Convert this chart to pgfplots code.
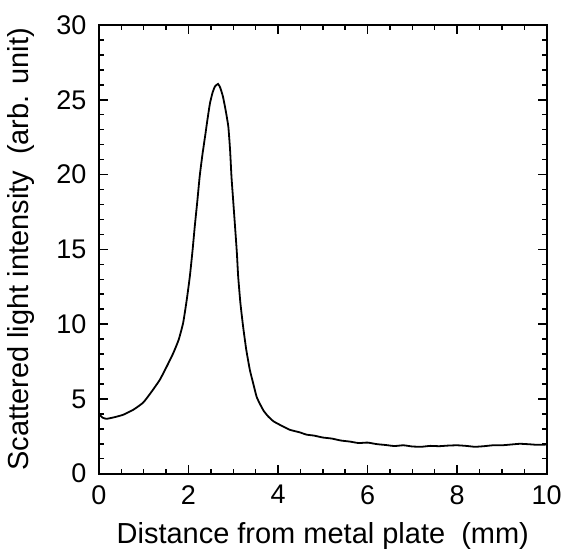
\documentclass[border=0pt]{standalone}
\usepackage{fontspec}
\setmainfont{Liberation Sans}
\usepackage{pgfplots}
\pgfplotsset{compat=1.18}

\pgfplotstableread{
x y
0.00 3.99
0.08 3.75
0.17 3.67
0.35 3.78
0.54 3.94
0.77 4.28
0.99 4.76
1.18 5.50
1.36 6.28
1.52 7.20
1.66 8.06
1.78 8.95
1.88 10.07
1.96 11.60
2.03 13.18
2.09 14.90
2.14 16.52
2.20 18.30
2.25 19.87
2.31 21.30
2.37 22.54
2.43 23.80
2.48 24.77
2.54 25.50
2.59 25.88
2.66 26.06
2.71 25.80
2.77 25.21
2.83 24.30
2.89 23.20
2.93 21.60
2.96 19.87
3.00 18.20
3.04 16.52
3.08 14.80
3.11 13.18
3.16 11.40
3.22 9.84
3.29 8.30
3.37 6.95
3.44 6.10
3.52 5.16
3.59 4.70
3.68 4.20
3.78 3.83
3.90 3.50
4.04 3.27
4.15 3.10
4.26 2.94
4.37 2.85
4.49 2.76
4.64 2.61
4.80 2.55
5.00 2.42
5.20 2.35
5.40 2.22
5.60 2.15
5.80 2.05
6.00 2.08
6.20 1.98
6.40 1.92
6.60 1.85
6.80 1.90
7.00 1.82
7.20 1.80
7.40 1.86
7.60 1.84
7.80 1.88
8.00 1.90
8.20 1.86
8.40 1.80
8.60 1.84
8.80 1.90
9.00 1.90
9.20 1.95
9.40 2.00
9.60 1.97
9.80 1.93
10.00 1.95
}\curve

\begin{document}
\begin{tikzpicture}
\begin{axis}[
  name=ax,
  width=448pt, height=449pt, scale only axis,
  xmin=0, xmax=10, ymin=0, ymax=30,
  xtick={0,2,...,10}, ytick={0,5,...,30},
  minor x tick num=3, minor y tick num=4,
  tick align=inside, tick pos=both,
  major tick length=9pt, minor tick length=5pt,
  axis line style={line width=1.8pt},
  every tick/.style={line width=1.5pt, black},
  /pgf/number format/assume math mode=true,
  tick label style={font=\fontsize{27}{30}\selectfont},
  xticklabel style={yshift=-8pt},
  yticklabel style={xshift=-9pt},
  xlabel={Distance from metal plate\ \ (mm)},
  ylabel={Scattered light intensity\ \ (arb. unit)},
  label style={font=\fontsize{29}{33}\selectfont},
  xlabel style={inner sep=3pt, yshift=-11.5pt},
  ylabel style={yshift=15pt},
]
\addplot[black, line width=1.8pt, smooth, tension=0.3] table {\curve};
\end{axis}
% page margins as in the reference
\path (ax.north) ++(0,25pt);
\path (ax.west) ++(-99pt,0);
\path (ax.south) ++(0,-78pt);
\end{tikzpicture}
\end{document}
